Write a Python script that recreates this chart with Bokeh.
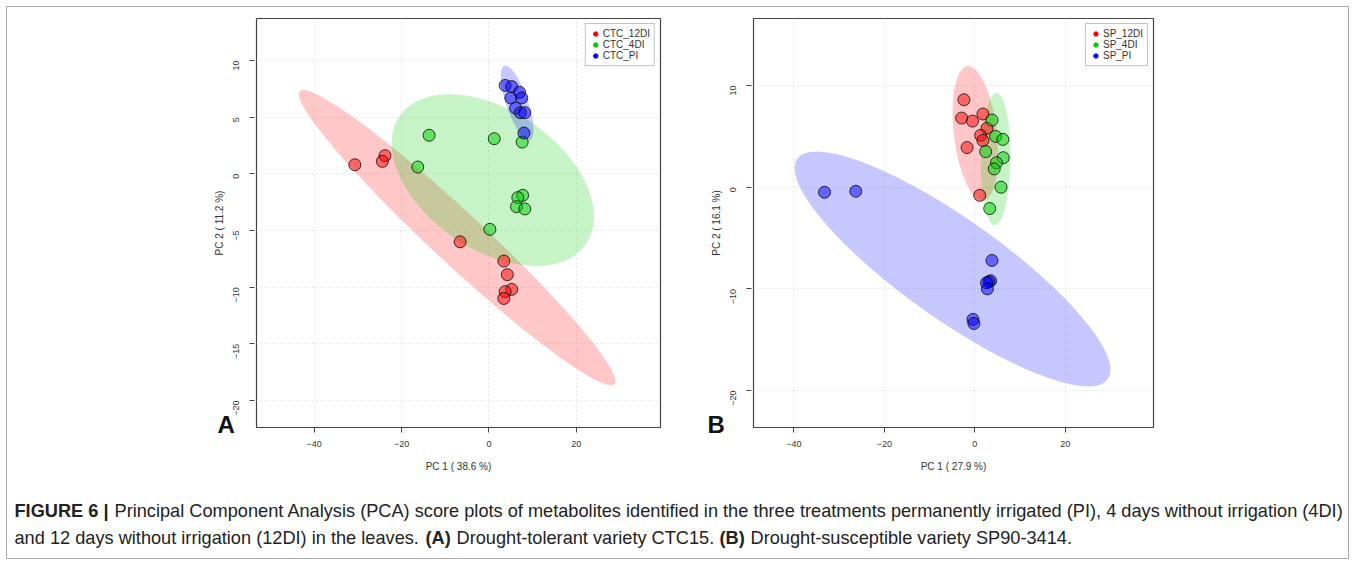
import math
import numpy as np
from bokeh.plotting import figure
from bokeh.models import Range1d, Legend, LegendItem, FixedTicker, Grid, Title
from bokeh.layouts import row, column
from bokeh.embed import file_html
from bokeh.resources import INLINE
from bokeh.core.properties import value

# ---------------- data ----------------
# Panel A : CTC15
a_labels = ["CTC_12DI", "CTC_4DI", "CTC_PI"]
a_12di_x = [-30.7, -23.8, -24.4, -6.6, 3.4, 4.2, 5.2, 3.7, 3.4]
a_12di_y = [0.8, 1.6, 1.1, -6.0, -7.7, -8.9, -10.2, -10.4, -11.0]
a_4di_x = [-13.7, 1.2, 7.6, -16.3, 7.7, 6.6, 6.3, 8.2, 0.2]
a_4di_y = [3.4, 3.1, 2.8, 0.6, -1.9, -2.1, -2.9, -3.1, -4.9]
a_pi_x = [3.7, 5.2, 7.0, 5.0, 7.5, 6.1, 7.2, 8.2, 8.0]
a_pi_y = [7.8, 7.7, 7.2, 6.7, 6.7, 5.8, 5.4, 5.4, 3.6]
a_xticks = [-40, -20, 0, 20]
a_yticks = [-20, -15, -10, -5, 0, 5, 10]
a_xlabel = "PC 1 ( 38.6 %)"
a_ylabel = "PC 2 ( 11.2 %)"

# Panel B : SP90-3414
b_labels = ["SP_12DI", "SP_4DI", "SP_PI"]
b_12di_x = [-2.4, -2.9, -0.5, 1.8, 2.7, 1.3, 1.8, -1.7, 1.1]
b_12di_y = [8.6, 6.8, 6.5, 7.2, 5.8, 5.1, 4.6, 3.9, -0.8]
b_4di_x = [3.8, 4.6, 6.2, 2.4, 6.3, 4.8, 4.3, 5.8, 3.3]
b_4di_y = [6.6, 5.0, 4.7, 3.5, 2.9, 2.4, 1.8, 0.0, -2.1]
b_pi_x = [-33.2, -26.3, 3.8, 3.5, 3.1, 2.6, 2.8, -0.4, -0.2]
b_pi_y = [-0.5, -0.4, -7.2, -9.2, -9.3, -9.4, -10.0, -13.0, -13.4]
b_xticks = [-40, -20, 0, 20]
b_yticks = [-20, -10, 0, 10]
b_xlabel = "PC 1 ( 27.9 %)"
b_ylabel = "PC 2 ( 16.1 %)"

group_colors = ["#FF0000", "#00CD00", "#0000FF"]

caption_line1 = [("FIGURE 6 |", "bold"),
                 ("Principal Component Analysis (PCA) score plots of metabolites identified in the three treatments "
                  "permanently irrigated (PI), 4 days without irrigation (4DI)", "normal")]
caption_line2 = [("and 12 days without irrigation (12DI) in the leaves.", "normal"),
                 ("(A)", "bold"),
                 ("Drought-tolerant variety CTC15.", "normal"),
                 ("(B)", "bold"),
                 ("Drought-susceptible variety SP90-3414.", "normal")]

FONT = "Liberation Sans"
NAN = float("nan")
ORIGIN = 7          # page pixel where the layout content starts (inside border)
FRAME_TOP, FRAME_BOTTOM = 18, 427
YAX_TOP, YAX_BOTTOM = 33, 412   # pixel span of the separate y-axis strip
ROW_H = 473


def conf_ellipse(xs, ys, level=0.95, n=240):
    x = np.asarray(xs, float)
    y = np.asarray(ys, float)
    cov = np.cov(x, y)
    t = math.sqrt(-2.0 * math.log(1.0 - level))
    sx, sy = math.sqrt(cov[0, 0]), math.sqrt(cov[1, 1])
    r = cov[0, 1] / (sx * sy)
    d = math.acos(max(-1.0, min(1.0, r)))
    a = np.linspace(0, 2 * math.pi, n)
    return t * sx * np.cos(a + d / 2) + x.mean(), t * sy * np.cos(a - d / 2) + y.mean()


def style_axis(ax, ticks):
    ax.ticker = FixedTicker(ticks=ticks)
    ax.axis_line_color = None
    ax.major_tick_out = 5
    ax.major_tick_in = 0
    ax.minor_tick_line_color = None
    ax.major_tick_line_color = "#444444"
    ax.major_label_text_font = FONT
    ax.major_label_text_font_size = "9px"
    ax.major_label_text_color = "#333333"
    ax.axis_label_text_font = FONT
    ax.axis_label_text_font_size = "10px"
    ax.axis_label_text_font_style = "normal"
    ax.axis_label_text_color = "#333333"


def main_panel(groups, labels, xticks, yticks, xlabel, xr, yr, fw, br):
    fh = FRAME_BOTTOM - FRAME_TOP
    bt = FRAME_TOP - ORIGIN
    bb = ROW_H - bt - fh
    p = figure(width=1 + fw + br, height=ROW_H, frame_width=fw, frame_height=fh,
               x_range=Range1d(*xr), y_range=Range1d(*yr), y_axis_location=None,
               output_backend="svg", toolbar_location=None,
               min_border_left=1, min_border_right=br, min_border_top=bt, min_border_bottom=bb)
    p.background_fill_color = "white"
    p.border_fill_color = "white"
    p.outline_line_color = "#444444"
    p.outline_line_width = 1.2
    style_axis(p.xaxis, xticks)
    p.xaxis.axis_label = xlabel
    p.xaxis.major_label_standoff = 8
    p.xaxis.axis_label_standoff = 11
    p.center = [c for c in p.center if not isinstance(c, Grid)]
    for dim, ticks in ((0, xticks), (1, yticks)):
        p.add_layout(Grid(dimension=dim, ticker=FixedTicker(ticks=ticks),
                          grid_line_color="#D3D3D3", grid_line_dash="1 3"))

    # 95% confidence ellipses computed from each group's scores
    for (gx, gy), col in zip(groups, group_colors):
        ex, ey = conf_ellipse(gx, gy)
        p.patch(ex, ey, fill_color=col, fill_alpha=0.22, line_color=None)
    # score points
    items = []
    for (gx, gy), col, lab in zip(groups, group_colors, labels):
        p.scatter(gx, gy, size=12, fill_color=col, fill_alpha=0.5,
                  line_color="black", line_alpha=0.75, line_width=1)
        proxy = p.scatter([NAN], [NAN], size=5, fill_color=col, line_color=col)
        items.append(LegendItem(label=lab, renderers=[proxy]))
    leg = Legend(items=items, location="top_right")
    leg.margin = 5
    leg.padding = 4
    leg.spacing = 0
    leg.label_text_font = FONT
    leg.label_text_font_size = "10px"
    leg.label_text_color = "#333333"
    leg.label_height = 11
    leg.glyph_height = 11
    leg.glyph_width = 11
    leg.label_standoff = 2
    leg.border_line_color = "#888888"
    leg.border_line_width = 1
    leg.background_fill_alpha = 1
    p.add_layout(leg)
    return p


def yaxis_strip(width, yr, yticks, ylabel, letter, letter_x):
    # same data scale as the main frame, over a shorter pixel span
    y0, y1 = yr
    per_px = (y1 - y0) / (FRAME_BOTTOM - FRAME_TOP)
    top_val = y1 - (YAX_TOP - FRAME_TOP) * per_px
    bot_val = y1 - (YAX_BOTTOM - FRAME_TOP) * per_px
    fh = YAX_BOTTOM - YAX_TOP
    bt = YAX_TOP - ORIGIN
    bb = ROW_H - bt - fh
    p = figure(width=width, height=ROW_H, frame_width=1, frame_height=fh,
               x_range=Range1d(0, 1), y_range=Range1d(bot_val, top_val), x_axis_location=None,
               output_backend="svg", toolbar_location=None,
               min_border_left=width - 1, min_border_right=0, min_border_top=bt, min_border_bottom=bb)
    p.outline_line_color = None
    p.grid.visible = False
    p.background_fill_color = "white"
    p.border_fill_color = "white"
    style_axis(p.yaxis, yticks)
    p.yaxis.axis_label = ylabel
    p.yaxis.major_label_standoff = 13
    p.yaxis.axis_label_standoff = 3
    p.yaxis.major_label_orientation = math.pi / 2
    # panel letter, below the axis strip
    t = Title(text=letter, text_font=FONT, text_font_size="24px", text_font_style="bold",
              text_color="#111111", align="left", offset=letter_x - (width - 1), standoff=-4,
              vertical_align="top")
    p.add_layout(t, "below")
    return p


a_xr, a_yr = (-53.2, 39.25), (-22.39, 13.71)
b_xr, b_yr = (-48.9, 39.5), (-23.63, 16.59)

mA = main_panel([(a_12di_x, a_12di_y), (a_4di_x, a_4di_y), (a_pi_x, a_pi_y)], a_labels,
                a_xticks, a_yticks, a_xlabel, a_xr, a_yr, 404, 30)
yA = yaxis_strip(248, a_yr, a_yticks, a_ylabel, "A", 210)

mB = main_panel([(b_12di_x, b_12di_y), (b_4di_x, b_4di_y), (b_pi_x, b_pi_y)], b_labels,
                b_xticks, b_yticks, b_xlabel, b_xr, b_yr, 400, 195)
yB = yaxis_strip(62, b_yr, b_yticks, b_ylabel, "B", 17)

# caption
cap = figure(width=1341, height=78, x_range=Range1d(0, 1341), y_range=Range1d(78, 0),
             output_backend="svg", toolbar_location=None, min_border=0)
cap.axis.visible = False
cap.grid.visible = False
cap.outline_line_color = None
line1_x = [7, 107]
line2_x = [7, 418, 449, 712, 743]
for segs, xs, yy in ((caption_line1, line1_x, 30), (caption_line2, line2_x, 57)):
    for (txt, style), xx in zip(segs, xs):
        cap.text(x=[xx], y=[yy], text=[txt], text_font=value(FONT), text_font_size="18.2px",
                 text_font_style=style, text_color="#222222", text_baseline="middle", text_align="left")

# nested single-child columns keep each strip's frame independent of the main frames
top = row(column(yA), column(mA), column(yB), column(mB))
layout = column(top, cap, styles={"border": "1px solid #aaaaaa", "margin": "6px 0 0 6px"})
open("out.html", "w").write(file_html(layout, INLINE))
